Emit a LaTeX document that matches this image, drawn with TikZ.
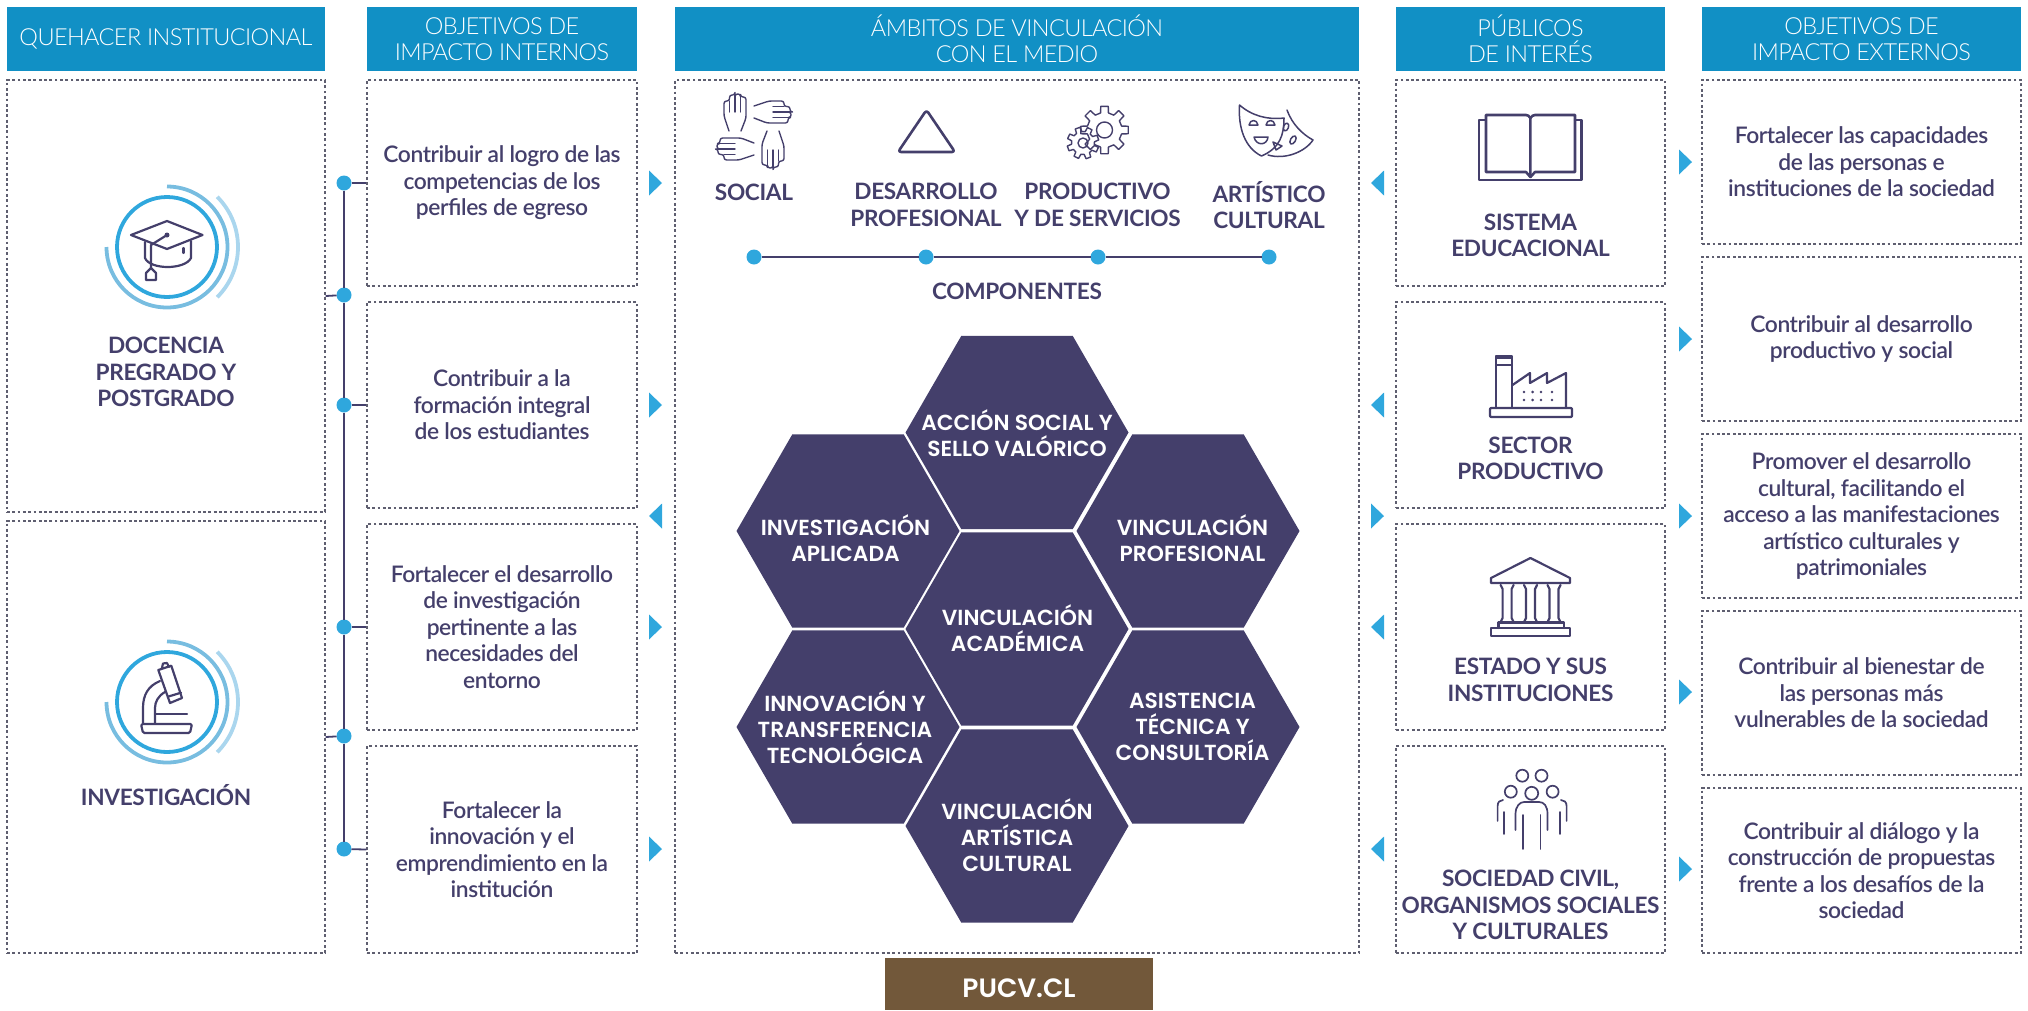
\documentclass[tikz,border=0pt]{standalone}
\usepackage{fontspec}
\setmainfont{Lato}
\newfontfamily\lightface{Lato Light}[LetterSpace=-2.5]
\newfontfamily\midface{Lato Semibold}[LetterSpace=-1.8]
\newfontfamily\strongface{Lato Bold}[LetterSpace=-1.5]
\newfontfamily\hexface{Poppins SemiBold}
\usetikzlibrary{shapes.geometric}
\definecolor{headblue}{HTML}{1190C5}
\definecolor{markblue}{HTML}{2FA7DD}
\definecolor{ringmid}{HTML}{78BDE0}
\definecolor{ringpale}{HTML}{AAD6EE}
\definecolor{inkblue}{HTML}{443F6B}
\definecolor{dashgray}{HTML}{5F5F70}
\definecolor{pucvbrown}{HTML}{72583A}
\tikzset{
	headbar/.style={fill=headblue,text=white,font=\lightface\fontsize{23.5}{26.5}\selectfont,align=center,inner sep=0pt,minimum height=64pt},
	dashbox/.style={draw=dashgray,line width=1.2pt,dash pattern=on 2.8pt off 2.5pt,text=inkblue,font=\midface\fontsize{22.8}{26.5}\selectfont,align=center,inner sep=0pt},
	strongtxt/.style={text=inkblue,font=\strongface\fontsize{22.6}{26.5}\selectfont,align=center,inner sep=0pt},
	hexcell/.style={regular polygon,regular polygon sides=6,fill=inkblue,minimum size=223pt,inner sep=0pt,outer sep=0pt},
	hextxt/.style={text=white,font=\hexface\fontsize{21.8}{26}\selectfont,align=center,inner sep=0pt},
	dotmark/.style={circle,fill=markblue,minimum size=15pt,inner sep=0pt,outer sep=0pt},
	tline/.style={draw=inkblue,line width=1.8pt},
	iconline/.style={draw=inkblue,line width=2.2pt,line join=round,line cap=round},
	ringmark/.pic={
		\draw[draw=markblue,line width=3.8pt] (0,0) circle (50);
		\draw[draw=ringmid,line width=3.8pt] (90:60.5) arc[start angle=90,end angle=-180,radius=60.5];
		\draw[draw=ringpale,line width=3.8pt] (45:71) arc[start angle=45,end angle=-45,radius=71];
	},
	handmark/.pic={
		\draw[iconline,line width=1.4pt,rounded corners=2.5pt] (-6,-18) -- (-11,-3) -- (-11,12) -- (-5.5,12) -- (-5.5,18) -- (0,18) -- (0,19) -- (5.5,19) -- (5.5,16) -- (11,16) -- (11,-5) -- (6,-18);
		\draw[iconline,line width=1.4pt] (-5.5,12) -- (-5.5,1) (0,18) -- (0,1) (5.5,16) -- (5.5,1);
	}
}
\begin{document}
\begin{tikzpicture}[x=1pt,y=1pt]
	\useasboundingbox (0,0) rectangle (2028,-1010);
	% headers
	\node[headbar,minimum width=318pt] (headQuehacer) at (166,-39) {QUEHACER INSTITUCIONAL};
	\node[headbar,minimum width=270pt] (headInternos) at (502,-39) {OBJETIVOS DE\\IMPACTO INTERNOS};
	\node[headbar,minimum width=684pt] (headAmbitos) at (1017,-39) {ÁMBITOS DE VINCULACIÓN\\CON EL MEDIO};
	\node[headbar,minimum width=269pt] (headPublicos) at (1530.5,-39) {PÚBLICOS\\DE INTERÉS};
	\node[headbar,minimum width=319pt] (headExternos) at (1861.5,-39) {OBJETIVOS DE\\IMPACTO EXTERNOS};
	% first column
	\node[dashbox,minimum width=318pt,minimum height=432pt] (boxDocencia) at (166,-296) {};
	\node[dashbox,minimum width=318pt,minimum height=432pt] (boxInvestig) at (166,-737) {};
	\node[strongtxt] (txtDocencia) at (166,-372) {DOCENCIA\\PREGRADO Y\\POSTGRADO};
	\node[strongtxt] (txtInvestig) at (166,-795) {INVESTIGACIÓN};
	\pic at (167,-247) {ringmark};
	\pic at (167,-702) {ringmark};
	\draw[iconline] (131,-235) -- (167,-221) -- (202.5,-235) -- (167,-249) -- cycle;
	\draw[iconline] (145,-242) -- (145,-258) .. controls (150,-270) and (185,-270) .. (191,-258) -- (191,-241);
	\draw[iconline] (167,-235) -- (151,-245) -- (151,-268);
	\draw[iconline] (151,-268) -- (146,-273) -- (146,-280) -- (156,-280) -- (156,-273) -- cycle;
	\draw[iconline] (183.5,-248) -- (183.5,-253);
	\fill[inkblue] (167,-235) circle (2.5);
	\draw[iconline] (158.3,-670) -- (171.3,-665.7) -- (182,-698) -- (170,-703) -- cycle;
	\draw[iconline] (167.8,-696.7) -- (181,-692.7);
	\draw[iconline] (162,-668) -- (163,-663.5) -- (167,-663) -- (169,-667);
	\draw[iconline] (160,-681) .. controls (148,-686) and (143,-695) .. (143,-708) -- (143,-723);
	\draw[iconline] (165,-692) .. controls (158,-696) and (155,-702) .. (155,-708) -- (155,-723);
	\draw[iconline] (155,-714) -- (187,-714);
	\draw[iconline,rounded corners=1.5pt] (141,-724) -- (192,-724) -- (190,-733) -- (143,-733) -- cycle;
	% internal objectives
	\node[dashbox,minimum width=270pt,minimum height=206pt] (boxLogro) at (502,-183) {Contribuir al logro de las\\competencias de los\\perfiles de egreso};
	\node[dashbox,minimum width=270pt,minimum height=206pt] (boxIntegral) at (502,-405) {Contribuir a la\\formación integral\\de los estudiantes};
	\node[dashbox,minimum width=270pt,minimum height=206pt] (boxDesarrollo) at (502,-627) {Fortalecer el desarrollo\\de investigación\\pertinente a las\\necesidades del\\entorno};
	\node[dashbox,minimum width=270pt,minimum height=207pt] (boxInnova) at (502,-849.5) {Fortalecer la\\innovación y el\\emprendimiento en la\\institución};
	% time line
	\node[dotmark] (dotA) at (344,-183) {};
	\node[dotmark] (dotB) at (344,-295) {};
	\node[dotmark] (dotC) at (344,-405) {};
	\node[dotmark] (dotD) at (344,-627) {};
	\node[dotmark] (dotE) at (344,-736) {};
	\node[dotmark] (dotF) at (344,-849) {};
	\draw[tline] (dotA) -- (dotB);
	\draw[tline] (dotB) -- (dotC);
	\draw[tline] (dotC) -- (dotD);
	\draw[tline] (dotD) -- (dotE);
	\draw[tline] (dotE) -- (dotF);
	\draw[tline] (dotA) -- (boxLogro.west);
	\draw[tline] (dotC) -- (boxIntegral.west);
	\draw[tline] (dotD) -- (boxDesarrollo.west);
	\draw[tline] (dotF) -- (boxInnova.west);
	\draw[tline] (dotB) -- (boxDocencia.east);
	\draw[tline] (dotE) -- (boxInvestig.east);
	% middle column
	\node[dashbox,minimum width=684pt,minimum height=873pt] (boxAmbitos) at (1017,-516.5) {};
	\foreach \xa/\ya/\rota in {735/-113/0,772/-112/-90,773/-149/180,736/-149/90}
		\pic[rotate=\rota] at (\xa,\ya) {handmark};
	\draw[iconline,line width=2.6pt,rounded corners=3pt] (926.5,-110) -- (898,-152) -- (955,-152) -- cycle;
	\draw[iconline,line width=1.4pt,shift={(1104.5,-130)}] \foreach \a in {0,45,...,315} {(\a-13:17.5) -- (\a-9:24) -- (\a+9:24) -- (\a+13:17.5) -- (\a+32:17.5)};
	\draw[iconline,line width=1.4pt] (1104.5,-130) circle (8);
	\draw[iconline,line width=1.4pt,shift={(1083,-143)}] \foreach \a in {20,65,...,335} {(\a-14:11.5) -- (\a-9:16) -- (\a+9:16) -- (\a+14:11.5) -- (\a+31:11.5)};
	\draw[iconline,line width=1.4pt] (1083,-143) circle (5);
	\draw[iconline,line width=1.5pt] (1239.5,-105) .. controls (1252,-116) and (1268,-120) .. (1284,-118) .. controls (1284,-135) and (1280,-148) .. (1261.5,-156) .. controls (1245,-148) and (1238,-128) .. (1239.5,-105);
	\draw[iconline,line width=1.5pt] (1249,-125) .. controls (1250,-119) and (1257,-119) .. (1258,-125) -- cycle;
	\draw[iconline,line width=1.5pt] (1266,-125) .. controls (1267,-119) and (1274,-119) .. (1275,-125) -- cycle;
	\draw[iconline,line width=1.5pt] (1254,-137) -- (1268,-137) .. controls (1267,-146) and (1256,-146) .. (1254,-137);
	\draw[iconline,line width=1.5pt] (1287,-110) .. controls (1292,-124) and (1302,-134) .. (1313,-140) .. controls (1305,-152) and (1285,-160) .. (1268,-155);
	\draw[iconline,line width=1.5pt,rotate around={-20:(1286,-127)}] (1286,-127) ellipse (2.5 and 4);
	\draw[iconline,line width=1.5pt,rotate around={-30:(1293,-140)}] (1293,-140) ellipse (2.5 and 4.5);
	\draw[iconline,line width=1.5pt] (1273,-142) -- (1282,-146) -- (1276,-150) -- cycle;
	\node[strongtxt] (txtSocial) at (754,-192) {SOCIAL};
	\node[strongtxt] (txtProfesional) at (926,-205) {DESARROLLO\\PROFESIONAL};
	\node[strongtxt] (txtProductivo) at (1097.5,-205) {PRODUCTIVO\\Y DE SERVICIOS};
	\node[strongtxt] (txtArtistico) at (1269,-205) {ARTÍSTICO\\CULTURAL};
	\node[dotmark] (compA) at (754,-257) {};
	\node[dotmark] (compB) at (926,-257) {};
	\node[dotmark] (compC) at (1098,-257) {};
	\node[dotmark] (compD) at (1269,-257) {};
	\draw[tline] (compA) -- (compB);
	\draw[tline] (compB) -- (compC);
	\draw[tline] (compC) -- (compD);
	\node[strongtxt] (txtComponentes) at (1017,-291) {COMPONENTES};
	% hexagons
	\node[hexcell] (hexTop) at (1017,-432.5) {};
	\node[hexcell] (hexCenter) at (1017,-629) {};
	\node[hexcell] (hexBottom) at (1017,-826) {};
	\node[hexcell] (hexUpLeft) at (848,-531) {};
	\node[hexcell] (hexUpRight) at (1188,-531) {};
	\node[hexcell] (hexLowLeft) at (848,-727) {};
	\node[hexcell] (hexLowRight) at (1188,-727) {};
	\node[hextxt] (txtAccion) at (1017,-433) {ACCIÓN SOCIAL Y\\SELLO VALÓRICO};
	\node[hextxt] (txtAcademica) at (1017.5,-628) {VINCULACIÓN\\ACADÉMICA};
	\node[hextxt] (txtArtCultural) at (1017,-835) {VINCULACIÓN\\ARTÍSTICA\\CULTURAL};
	\node[hextxt] (txtAplicada) at (845.5,-538) {INVESTIGACIÓN\\APLICADA};
	\node[hextxt] (txtVincProf) at (1192.5,-538) {VINCULACIÓN\\PROFESIONAL};
	\node[hextxt] (txtInnova) at (845,-727) {INNOVACIÓN Y\\TRANSFERENCIA\\TECNOLÓGICA};
	\node[hextxt] (txtAsistencia) at (1192.5,-727) {ASISTENCIA\\TÉCNICA Y\\CONSULTORÍA};
	\node[fill=pucvbrown,text=white,font=\hexface\fontsize{26.5}{26}\selectfont,inner sep=0pt,minimum width=268pt,minimum height=52pt,text depth=0pt,text height=26pt] (tagPucv) at (1019,-984) {PUCV.CL};
	% publics
	\node[dashbox,minimum width=269pt,minimum height=206pt] (boxSistema) at (1530.5,-183) {};
	\node[dashbox,minimum width=269pt,minimum height=206pt] (boxSector) at (1530.5,-405) {};
	\node[dashbox,minimum width=269pt,minimum height=206pt] (boxEstado) at (1530.5,-627) {};
	\node[dashbox,minimum width=269pt,minimum height=207pt] (boxSociedad) at (1530.5,-849.5) {};
	\node[strongtxt] (txtSistema) at (1530.5,-235.5) {SISTEMA\\EDUCACIONAL};
	\node[strongtxt] (txtSector) at (1530.5,-458.5) {SECTOR\\PRODUCTIVO};
	\node[strongtxt] (txtEstado) at (1530.5,-680) {ESTADO Y SUS\\INSTITUCIONES};
	\node[strongtxt] (txtSociedad) at (1530.5,-905) {SOCIEDAD CIVIL,\\ORGANISMOS SOCIALES\\Y CULTURALES};
	\draw[iconline,line width=2.6pt] (1485,-120) -- (1479,-120) -- (1479,-180) -- (1581.5,-180) -- (1581.5,-120) -- (1575,-120);
	\draw[iconline,line width=2.6pt] (1530.4,-177) -- (1530.4,-118) .. controls (1529,-116) and (1528,-115) .. (1526,-115) -- (1486,-115) -- (1486,-172) -- (1526,-172) -- cycle;
	\draw[iconline,line width=2.6pt] (1530.4,-118) .. controls (1532,-116) and (1533,-115) .. (1535,-115) -- (1575,-115) -- (1575,-172) -- (1535,-172) -- (1530.4,-177);
	\draw[iconline,rounded corners=1pt] (1490,-408) rectangle (1572,-417);
	\draw[iconline] (1496,-408) -- (1496,-356) -- (1511.7,-356) -- (1511.7,-408);
	\fill[inkblue] (1496,-356) rectangle (1511.7,-359);
	\draw[iconline] (1496,-365) -- (1511.7,-365);
	\draw[iconline] (1512.5,-385) -- (1530,-373) -- (1530,-383) -- (1547,-373) -- (1547,-383) -- (1566,-373) -- (1566,-408);
	\foreach \xa in {1524,1532.6,1541,1552}
		\foreach \ya in {-392,-400}
			\fill[inkblue] (\xa,\ya) circle (1.4);
	\draw[iconline] (1530.4,-558) -- (1570,-578) -- (1570,-583) -- (1491,-583) -- (1491,-578) -- cycle;
	\foreach \xa in {1500.6,1524,1547.5}
		\draw[iconline] (\xa,-585) -- (\xa+2,-589) -- (\xa+2,-618) -- (\xa,-622) (\xa+13,-585) -- (\xa+11,-589) -- (\xa+11,-618) -- (\xa+13,-622);
	\draw[iconline] (1498.5,-628) -- (1498.5,-622.5) -- (1563.7,-622.5) -- (1563.7,-628);
	\draw[iconline] (1491,-628) rectangle (1570,-636);
	\foreach \xa/\ya/\ra in {1522.3/-775.7/6,1541.5/-775.7/6,1510.8/-791.7/6,1531.7/-793.3/6.5,1552.6/-791.7/6}
		\draw[iconline,line width=1.7pt] (\xa,\ya) circle (\ra);
	\draw[iconline,line width=1.7pt] (1515.5,-830) -- (1515.5,-814) .. controls (1515.5,-806) and (1520,-802) .. (1524,-802) -- (1539,-802) .. controls (1544,-802) and (1547.5,-806) .. (1547.5,-814) -- (1547.5,-830);
	\draw[iconline,line width=1.7pt] (1523,-849) -- (1523,-815) (1540.6,-849) -- (1540.6,-815);
	\draw[iconline,line width=1.7pt] (1504,-834) -- (1504,-812) (1497.6,-821) -- (1497.6,-806) .. controls (1497.6,-802) and (1500,-800) .. (1503,-800);
	\draw[iconline,line width=1.7pt] (1560,-834) -- (1560,-812) (1566.6,-821) -- (1566.6,-806) .. controls (1566.6,-802) and (1564,-800) .. (1561,-800);
	% external objectives
	\node[dashbox,minimum width=319pt,minimum height=164pt] (boxCapacidades) at (1861.5,-162) {Fortalecer las capacidades\\de las personas e\\instituciones de la sociedad};
	\node[dashbox,minimum width=319pt,minimum height=164pt] (boxProductivo) at (1861.5,-339) {Contribuir al desarrollo\\productivo y social};
	\node[dashbox,minimum width=319pt,minimum height=164pt] (boxCultural) at (1861.5,-516) {Promover el desarrollo\\cultural, facilitando el\\acceso a las manifestaciones\\artístico culturales y\\patrimoniales};
	\node[dashbox,minimum width=319pt,minimum height=164pt] (boxBienestar) at (1861.5,-693) {Contribuir al bienestar de\\las personas más\\vulnerables de la sociedad};
	\node[dashbox,minimum width=319pt,minimum height=165pt] (boxDialogo) at (1861.5,-870.5) {Contribuir al diálogo y la\\construcción de propuestas\\frente a los desafíos de la\\sociedad};
	% small arrows
	\foreach \ya in {183,405,627,849}
		\fill[markblue] (649,-\ya-12.5) -- (662,-\ya) -- (649,-\ya+12.5) -- cycle;
	\fill[markblue] (662,-516-12.5) -- (649,-516) -- (662,-516+12.5) -- cycle;
	\foreach \ya in {183,405,627,849}
		\fill[markblue] (1384,-\ya-12.5) -- (1371,-\ya) -- (1384,-\ya+12.5) -- cycle;
	\fill[markblue] (1371,-516-12.5) -- (1384,-516) -- (1371,-516+12.5) -- cycle;
	\foreach \ya in {162,339,516,692,869}
		\fill[markblue] (1679,-\ya-12.5) -- (1692,-\ya) -- (1679,-\ya+12.5) -- cycle;
\end{tikzpicture}
\end{document}
